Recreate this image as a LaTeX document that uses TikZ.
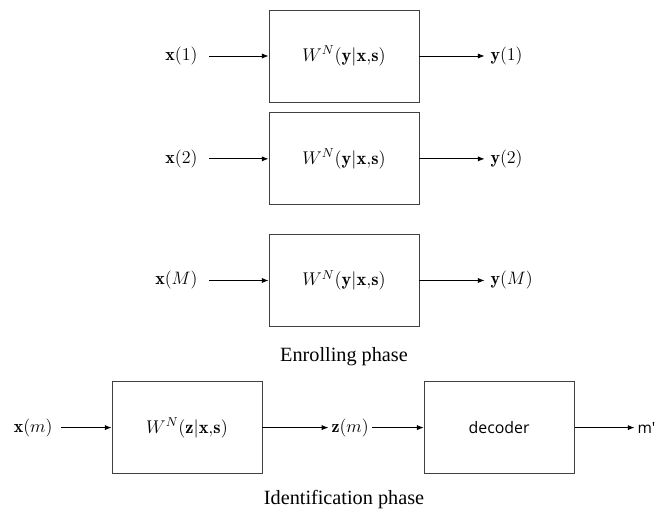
\RequirePackage{fix-cm}
\documentclass[tikz,border=0pt]{standalone}
\usepackage{amsmath}
\usepackage{fontspec}
\usepackage{tikz}
\usetikzlibrary{arrows.meta, positioning}
\newfontfamily\capfont{Liberation Serif}
\newfontfamily\decfont{Open Sans}
\definecolor{boxgray}{RGB}{64,64,64}

\begin{document}
\begin{tikzpicture}[
   chan/.style={draw=boxgray, line width=0.6pt, minimum width=3.75cm, minimum height=2.3cm,
                font=\fontsize{13.1}{16}\selectfont, align=center},
   sig/.style={font=\fontsize{12.8}{15}\selectfont, inner sep=2pt},
   flow/.style={-{Latex[length=1.7mm,width=1.3mm]}, line width=0.6pt, black},
   phase/.style={font=\capfont\Large},
   node distance=0.25cm and 1.7cm]

 \useasboundingbox (0,0) rectangle (16.475,-12.825);

 % enrolling phase
 \node[chan] (ch1) at (8.6,-1.4) {$W^N(\mathbf{y}|\mathbf{x}{,}\mathbf{s})$};
 \node[chan, below=of ch1] (ch2) {$W^N(\mathbf{y}|\mathbf{x}{,}\mathbf{s})$};
 \node[chan, below=0.72cm of ch2] (chM) {$W^N(\mathbf{y}|\mathbf{x}{,}\mathbf{s})$};
 \node[phase, below=0.4cm of chM] (enroll) {Enrolling phase};

 \node[sig, left=of ch1] (x1) {$\mathbf{x}(1)$};
 \node[sig, left=of ch2] (x2) {$\mathbf{x}(2)$};
 \node[sig, left=of chM] (xM) {$\mathbf{x}(M)$};
 \node[sig, right=of ch1] (y1) {$\mathbf{y}(1)$};
 \node[sig, right=of ch2] (y2) {$\mathbf{y}(2)$};
 \node[sig, right=of chM] (yM) {$\mathbf{y}(M)$};

 \draw[flow, shorten <=6pt] (x1) -- (ch1);
 \draw[flow, shorten <=6pt] (x2) -- (ch2);
 \draw[flow, shorten <=6pt] (xM) -- (chM);
 \draw[flow, shorten >=2pt] (ch1) -- (y1);
 \draw[flow, shorten >=2pt] (ch2) -- (y2);
 \draw[flow, shorten >=2pt] (chM) -- (yM);

 % identification phase
 \node[chan] (chz) at (4.675,-10.69) {$W^N(\mathbf{z}|\mathbf{x}{,}\mathbf{s})$};
 \node[sig, left=1.4cm of chz] (xm) {$\mathbf{x}(m)$};
 \node[sig, right=1.65cm of chz] (zm) {$\mathbf{z}(m)$};
 \node[chan, font=\decfont\fontsize{11.3}{13}\selectfont, right=1.3cm of zm] (dec) {decoder};
 \node[sig, font=\decfont\fontsize{11}{13}\selectfont, right=1.5cm of dec] (mhat) {m'};
 \node[phase] (ident) at (8.6,-12.5) {Identification phase};

 \draw[flow, shorten <=4pt] (xm) -- (chz);
 \draw[flow] (chz) -- (zm);
 \draw[flow] (zm) -- (dec);
 \draw[flow] (dec) -- (mhat);
\end{tikzpicture}
\end{document}
